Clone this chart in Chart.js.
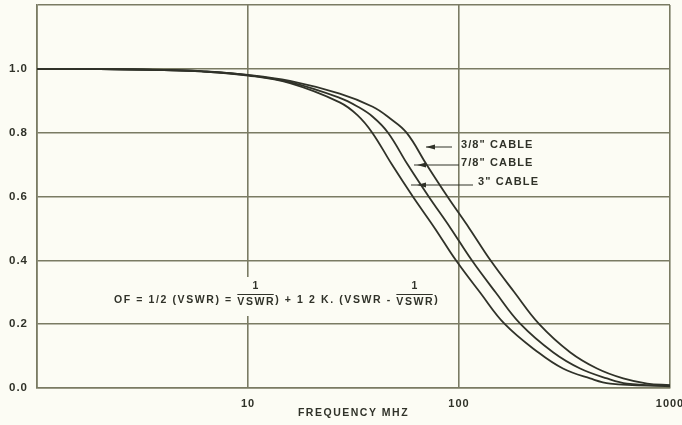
<!DOCTYPE html>
<html>
<head>
<meta charset="utf-8">
<script src="https://cdn.jsdelivr.net/npm/chart.js@4.4.1/dist/chart.umd.min.js"></script>
<style>
  html, body { margin: 0; padding: 0; background: #fcfcf4; }
  #wrap { width: 682px; height: 425px; }
</style>
</head>
<body>
<div id="wrap"><canvas id="ofChart" width="682" height="425"></canvas></div>
<script>
// frequency (MHz) and operating factor
const freq38 = [1, 2, 4, 6, 10, 15.8, 27.2, 39, 47, 56.4, 70.2, 88.1, 112, 141, 183, 240, 336, 451, 600, 780, 1000];
const of38   = [1.0, 0.999, 0.997, 0.993, 0.981, 0.962, 0.922, 0.881, 0.845, 0.80, 0.70, 0.60, 0.50, 0.40, 0.30, 0.20, 0.112, 0.061, 0.030, 0.014, 0.009];

const freq78 = [1, 2, 4, 6, 10, 15.8, 27.2, 33, 39, 46.1, 57.1, 71.8, 91.4, 115, 149, 196, 279, 375, 503, 626, 1000];
const of78   = [1.0, 0.999, 0.996, 0.992, 0.980, 0.958, 0.909, 0.882, 0.850, 0.80, 0.70, 0.60, 0.50, 0.40, 0.30, 0.20, 0.112, 0.061, 0.030, 0.014, 0.007];

const freq3  = [1, 2, 4, 6, 10, 15.8, 27.2, 33, 38.8, 48.1, 60.4, 76.9, 96.7, 125.6, 165, 237, 311, 418, 520, 1000];
const of3    = [1.0, 0.999, 0.996, 0.992, 0.979, 0.955, 0.895, 0.855, 0.80, 0.70, 0.60, 0.50, 0.40, 0.30, 0.20, 0.112, 0.061, 0.030, 0.014, 0.005];

const yTicks = [0, 0.2, 0.4, 0.6, 0.8, 1.0, 1.2];
const xTicks = [1, 10, 100, 1000];
const xTickLabels = ['', '10', '100', '1000'];

const INK = '#303229';
const GRID = '#7a7b63';
const PAPER = '#fcfcf4';
const FONT = '"Liberation Sans", Arial, sans-serif';

function pts(xs, ys) {
  return xs.map((x, i) => ({ x: x, y: ys[i] }));
}

function curve(label, xs, ys) {
  return {
    label: label,
    data: pts(xs, ys),
    borderColor: INK,
    borderWidth: 1.8,
    pointRadius: 0,
    fill: false,
    tension: 0.4
  };
}

// wide letter spacing for every label, like the typeset original
const spacing = {
  id: 'spacing',
  beforeDraw(chart) {
    chart.ctx.letterSpacing = '1px';
  }
};

// formula, axis title and the cable callouts drawn on top of the plot
const notes = {
  id: 'notes',
  afterDatasetsDraw(chart) {
    const c = chart.ctx;
    const area = chart.chartArea;
    const gx = chart.scales.x.getPixelForValue(100);
    c.save();

    // formula, on a paper patch that breaks the grid line behind it
    c.fillStyle = PAPER;
    c.fillRect(111, 277, 337, 39);
    c.fillStyle = INK;
    c.strokeStyle = INK;
    c.font = 'bold 10.5px ' + FONT;
    c.letterSpacing = '1.6px';
    c.textBaseline = 'middle';
    c.textAlign = 'left';
    let x = 114;
    const y = 300;
    function put(s) { c.fillText(s, x, y); x += c.measureText(s).width; }
    function frac() {
      const w = c.measureText('VSWR').width;
      c.textAlign = 'center';
      c.fillText('1', x + w / 2, 286);
      c.fillText('VSWR', x + w / 2, 302);
      c.textAlign = 'left';
      c.lineWidth = 1.2;
      c.beginPath();
      c.moveTo(x, 294.5);
      c.lineTo(x + w - 1.5, 294.5);
      c.stroke();
      x += w;
    }
    put('OF = 1/2 (VSWR) = ');
    frac();
    put(') + 1 2 K. (VSWR - ');
    frac();
    put(')');

    // x axis title
    c.font = 'bold 10.5px ' + FONT;
    c.letterSpacing = '1.5px';
    c.textAlign = 'center';
    c.fillText('FREQUENCY MHZ', (area.left + area.right) / 2, 413);

    // cable labels beside the 100 MHz line
    c.textAlign = 'left';
    c.font = 'bold 11px ' + FONT;
    c.letterSpacing = '1.1px';
    c.fillText('3/8" CABLE', gx + 2, 145);
    c.fillText('7/8" CABLE', gx + 2, 163);
    c.fillText('3" CABLE', gx + 19, 182);

    function arrow(left, right, tip, yy) {
      c.lineWidth = 1;
      c.beginPath();
      c.moveTo(left, yy);
      c.lineTo(right, yy);
      c.stroke();
      c.beginPath();
      c.moveTo(tip, yy);
      c.lineTo(tip + 9, yy - 2.5);
      c.lineTo(tip + 9, yy + 2.5);
      c.closePath();
      c.fill();
    }
    arrow(gx - 33, gx - 7, gx - 33, 147);
    arrow(gx - 45, gx, gx - 42, 165);
    arrow(gx - 48, gx + 14, gx - 42, 185);
    c.restore();
  }
};

new Chart(document.getElementById('ofChart'), {
  type: 'line',
  data: {
    datasets: [
      curve('3/8" CABLE', freq38, of38),
      curve('7/8" CABLE', freq78, of78),
      curve('3" CABLE', freq3, of3)
    ]
  },
  options: {
    responsive: false,
    animation: false,
    layout: { padding: { top: 5, right: 12, left: 0, bottom: 0 } },
    plugins: {
      legend: { display: false },
      tooltip: { enabled: false }
    },
    scales: {
      x: {
        type: 'logarithmic',
        min: 1,
        max: 1000,
        afterBuildTicks(scale) {
          scale.ticks = xTicks.map(v => ({ value: v }));
        },
        afterFit(scale) {
          scale.height = 37;
          scale.paddingLeft = 0;
          scale.paddingRight = 0;
        },
        grid: { color: GRID, lineWidth: 1.6, drawTicks: false },
        border: { color: GRID, width: 1.6 },
        ticks: {
          color: INK,
          padding: 9,
          maxRotation: 0,
          autoSkip: false,
          font: { family: FONT, size: 11, weight: 'bold' },
          callback: (v, i) => xTickLabels[i]
        }
      },
      y: {
        min: 0,
        max: 1.2,
        afterBuildTicks(scale) {
          scale.ticks = yTicks.map(v => ({ value: v }));
        },
        afterFit(scale) {
          scale.width = 37;
          scale.paddingTop = 0;
          scale.paddingBottom = 0;
        },
        grid: { color: GRID, lineWidth: 1.6, drawTicks: false },
        border: { color: GRID, width: 1.6 },
        ticks: {
          color: INK,
          padding: 9,
          font: { family: FONT, size: 11.5, weight: 'bold' },
          callback: v => (v > 1.1 ? '' : v.toFixed(1))
        }
      }
    }
  },
  plugins: [spacing, notes]
});
</script>
</body>
</html>
